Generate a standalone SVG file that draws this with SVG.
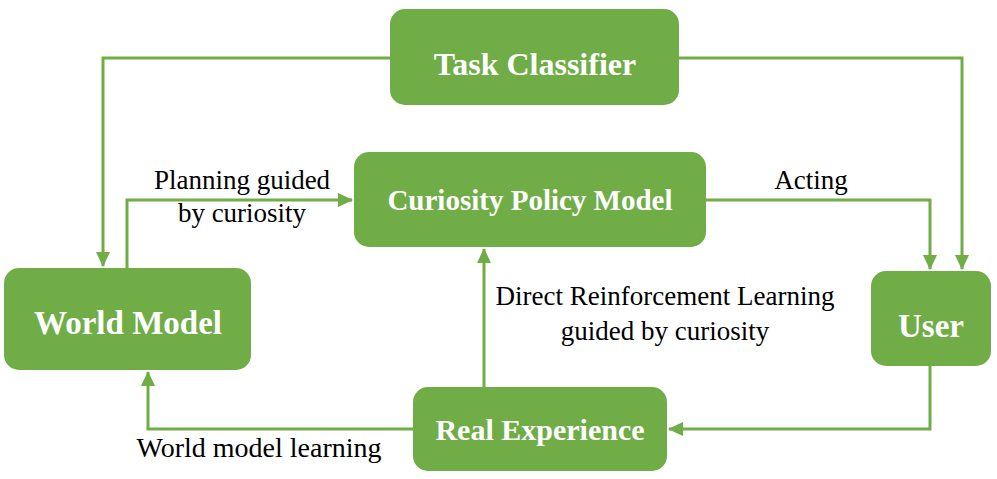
<svg xmlns="http://www.w3.org/2000/svg" width="997" height="479" viewBox="0 0 997 479">
<defs>
<marker id="ah" markerUnits="userSpaceOnUse" markerWidth="16" markerHeight="14" refX="14" refY="7" orient="auto">
<path d="M0,0 L15,7 L0,14 Z" fill="#70AD47"/>
</marker>
</defs>
<rect width="997" height="479" fill="#fff"/>
<g id="connectors" fill="none" stroke="#70AD47" stroke-width="3">
<path d="M390,58 H103 V266" marker-end="url(#ah)"/>
<path d="M679,58 H962 V269" marker-end="url(#ah)"/>
<path d="M127,268 V200 H352" marker-end="url(#ah)"/>
<path d="M706,200 H930 V269" marker-end="url(#ah)"/>
<path d="M930,366 V429 H669" marker-end="url(#ah)"/>
<path d="M413,429 H148 V372" marker-end="url(#ah)"/>
<path d="M484,387 V249" marker-end="url(#ah)"/>
</g>
<g id="labels">
<text font-family="Liberation Serif" font-size="27" text-anchor="middle" fill="#000" x="242" y="189">Planning guided</text>
<text font-family="Liberation Serif" font-size="27" text-anchor="middle" fill="#000" x="242" y="222">by curiosity</text>
<text font-family="Liberation Serif" font-size="27" text-anchor="middle" fill="#000" x="811" y="189">Acting</text>
<text font-family="Liberation Serif" font-size="27" text-anchor="middle" fill="#000" x="665" y="305">Direct Reinforcement Learning</text>
<text font-family="Liberation Serif" font-size="27" text-anchor="middle" fill="#000" x="665" y="340">guided by curiosity</text>
<text font-family="Liberation Serif" font-size="28" text-anchor="middle" fill="#000" x="259" y="457">World model learning</text>
</g>
<g id="task-classifier">
<rect fill="#70AD47" x="390" y="9" width="289" height="96" rx="15"/>
<text font-family="Liberation Serif" font-weight="bold" text-anchor="middle" fill="#fff" x="535" y="75" font-size="32">Task Classifier</text>
</g>
<g id="curiosity-policy-model">
<rect fill="#70AD47" x="354" y="152" width="352" height="95" rx="15"/>
<text font-family="Liberation Serif" font-weight="bold" text-anchor="middle" fill="#fff" x="530" y="210" font-size="29">Curiosity Policy Model</text>
</g>
<g id="world-model">
<rect fill="#70AD47" x="4" y="268" width="247" height="102" rx="15"/>
<text font-family="Liberation Serif" font-weight="bold" text-anchor="middle" fill="#fff" x="128" y="334" font-size="33">World Model</text>
</g>
<g id="user">
<rect fill="#70AD47" x="871" y="271" width="120" height="95" rx="15"/>
<text font-family="Liberation Serif" font-weight="bold" text-anchor="middle" fill="#fff" x="931" y="337" font-size="33">User</text>
</g>
<g id="real-experience">
<rect fill="#70AD47" x="413" y="387" width="254" height="84" rx="15"/>
<text font-family="Liberation Serif" font-weight="bold" text-anchor="middle" fill="#fff" x="540" y="440" font-size="30">Real Experience</text>
</g>
</svg>
